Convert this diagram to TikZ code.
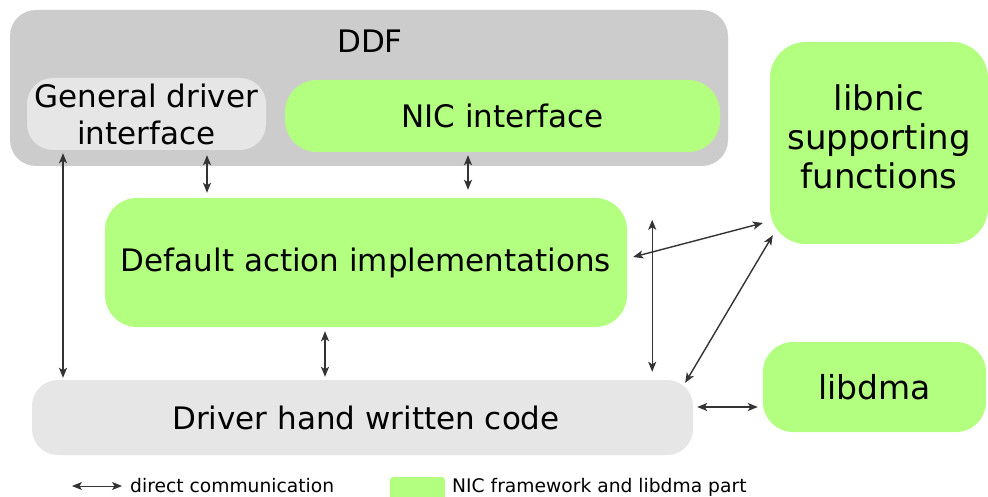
\documentclass[tikz,border=0pt]{standalone}
\usepackage{fontspec}
\setmainfont{DejaVu Sans}
\usetikzlibrary{arrows.meta,calc}
\definecolor{ddfgray}{HTML}{CCCCCC}
\definecolor{lgray}{HTML}{E6E6E6}
\definecolor{nicgreen}{HTML}{B3FF80}
\definecolor{arrcol}{HTML}{333333}
\tikzset{
  box/.style={rounded corners=#1, inner sep=0pt, align=center, font=\fontsize{31}{37}\selectfont},
  greenbox/.style={box=#1, fill=nicgreen},
  graybox/.style={box=#1, fill=lgray},
  arr/.style={{Stealth[length=10pt,width=8pt,inset=2.5pt]}-{Stealth[length=10pt,width=8pt,inset=2.5pt]}, draw=arrcol, line width=1.4pt},
  legtext/.style={anchor=west, inner sep=0pt, font=\fontsize{18.7}{22}\selectfont}
}
\begin{document}
\begin{tikzpicture}[x=1pt,y=-1pt]
\useasboundingbox (0,0) rectangle (988,497);
\fill[white] (0,0) rectangle (988,497);
% DDF container
\node[box=26, fill=ddfgray, minimum width=718pt, minimum height=156pt] (ddf) at (369,88) {};
\node[inner sep=0pt, font=\fontsize{31}{37}\selectfont] (ddft) at (370,41) {DDF};
\node[graybox=26, minimum width=239pt, minimum height=72pt] (gdi) at (146.5,114) {General driver\\interface};
\node[greenbox=32, minimum width=435pt, minimum height=72pt] (nic) at (502.5,116) {NIC interface};
% default actions
\node[greenbox=32, minimum width=522pt, minimum height=129pt] (def) at (366,262.5) {Default action implementations};
% libnic
\node[greenbox=36, minimum width=218pt, minimum height=202pt] (libnic) at (879,143) {};
\node[inner sep=0pt, align=center, font=\fontsize{34}{39}\selectfont] (libnict) at (879,137) {libnic\\supporting\\functions};
% libdma
\node[greenbox=30, minimum width=223pt, minimum height=90pt, font=\fontsize{33}{39}\selectfont] (libdma) at (874.5,387) {libdma};
% driver
\node[graybox=26, minimum width=661pt, minimum height=75pt] (drv) at (362.5,417.5) {};
\node[inner sep=0pt, font=\fontsize{31}{37}\selectfont] (drvt) at (366,418) {Driver hand written code};
% connectors
\draw[arr] ([xshift=-83.5pt,yshift=-3pt]gdi.south) -- ([xshift=-299.5pt,yshift=2pt]drv.north);
\draw[arr] ([xshift=60.5pt,yshift=-5pt]gdi.south) -- ([xshift=-159pt,yshift=5pt]def.north);
\draw[arr] ([xshift=-34.5pt,yshift=-3pt]nic.south) -- ([xshift=102pt,yshift=8pt]def.north);
\draw[arr] ([xshift=-41pt,yshift=-4pt]def.south) -- ([xshift=-37.5pt,yshift=3pt]drv.north);
\draw[arr] ([xshift=25pt,yshift=-22pt]def.north east) -- ([xshift=-41pt,yshift=8pt]drv.north east);
\draw[arr] ([xshift=6pt,yshift=5.5pt]def.east) -- ([xshift=-7pt,yshift=-80pt]libnic.west);
\draw[arr] ([xshift=3pt,yshift=9pt]libnic.south west) -- ([xshift=-8pt,yshift=-3pt]drv.north east);
\draw[arr] ([xshift=4pt,yshift=10.5pt]drv.east) -- ([xshift=-5pt,yshift=-20pt]libdma.west);
% legend
\coordinate (la) at (72,486);
\coordinate (lb) at (122,486);
\draw[arr, line width=1pt] (la) -- (lb);
\node[legtext] (leg1) at (130,486) {direct communication};
\node[rounded corners=3pt, fill=nicgreen, minimum width=55pt, minimum height=24pt, inner sep=0pt] (legsq) at (417.5,489) {};
\node[legtext] (leg2) at (452,487) {NIC framework and libdma part};
\end{tikzpicture}
\end{document}
